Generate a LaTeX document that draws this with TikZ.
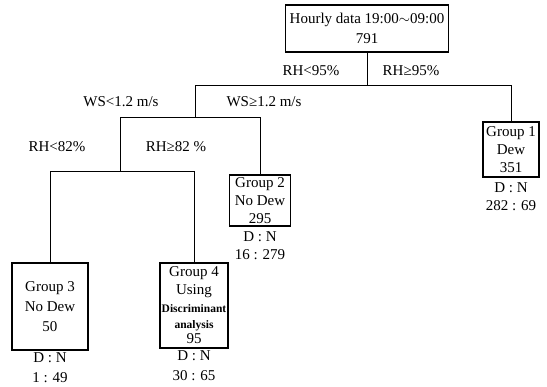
\documentclass[tikz,border=0pt]{standalone}
\usepackage{fontspec}
\setmainfont{Liberation Serif}
\usetikzlibrary{positioning}

\begin{document}
\begin{tikzpicture}[
        x=1pt, y=-1pt,
        every node/.style={font=\fontsize{15}{18}\selectfont},
        group/.style={draw, rectangle, line width=1.2pt, align=center, inner sep=1pt},
        cond/.style={inner sep=0pt},
        ratio/.style={align=center, inner sep=0pt},
        branch/.style={line width=1pt}
    ]
        \useasboundingbox (0,0) rectangle (547,387);
        % Nodes
        \node [group, minimum width=163pt, minimum height=47pt] (root) at (367,28.5) {Hourly data 19:00$\sim$09:00\\[2pt]791};
        \node [group, minimum width=56pt, minimum height=55pt] (g1) at (511,149.5) {Group 1\\Dew\\351};
        \node [group, minimum width=61pt, minimum height=51pt] (g2) at (260,200.5) {Group 2\\No Dew\\295};
        \node [group, minimum width=76pt, minimum height=87pt] (g3) at (50,306.5) {Group 3\\[2pt]No Dew\\[2pt]50};
        \node [group, minimum width=68pt, minimum height=85pt] (g4) at (194,305.5) {Group 4\\Using\\{\fontsize{11.5}{12}\selectfont\bfseries Discriminant}\\[-2pt]{\fontsize{11.5}{12}\selectfont\bfseries analysis}\\[-3pt]95};

        \node [ratio, below=5pt of g1] (r1) {D : N\\282 : 69};
        \node [ratio, below=5pt of g2] (r2) {D : N\\16 : 279};
        \node [ratio, below=2pt of g3] (r3) {D : N\\[2pt]1 : 49};
        \node [ratio, below=2pt of g4] (r4) {D : N\\[2pt]30 : 65};

        % Junctions
        \coordinate (j0) at (367,86);
        \coordinate (j1) at (195,118);
        \coordinate (j2) at (120,172);

        % Connections
        \draw [branch] (root.south) -- (j0);
        \draw [branch] (j0) -| (g1.north);
        \draw [branch] (j0) -| (j1);
        \draw [branch] (j1) -| (g2.north);
        \draw [branch] (j1) -| (j2);
        \draw [branch] (j2) -| (g3.north);
        \draw [branch] (j2) -| (g4.north);

        % Conditions
        \node [cond] (c1) at (311,71) {RH<95\%};
        \node [cond] (c2) at (411,71) {RH≥95\%};
        \node [cond] (c3) at (121,102) {WS<1.2 m/s};
        \node [cond] (c4) at (264,102) {WS≥1.2 m/s};
        \node [cond] (c5) at (57,147) {RH<82\%};
        \node [cond] (c6) at (176,147) {RH≥82 \%};
    \end{tikzpicture}
\end{document}
